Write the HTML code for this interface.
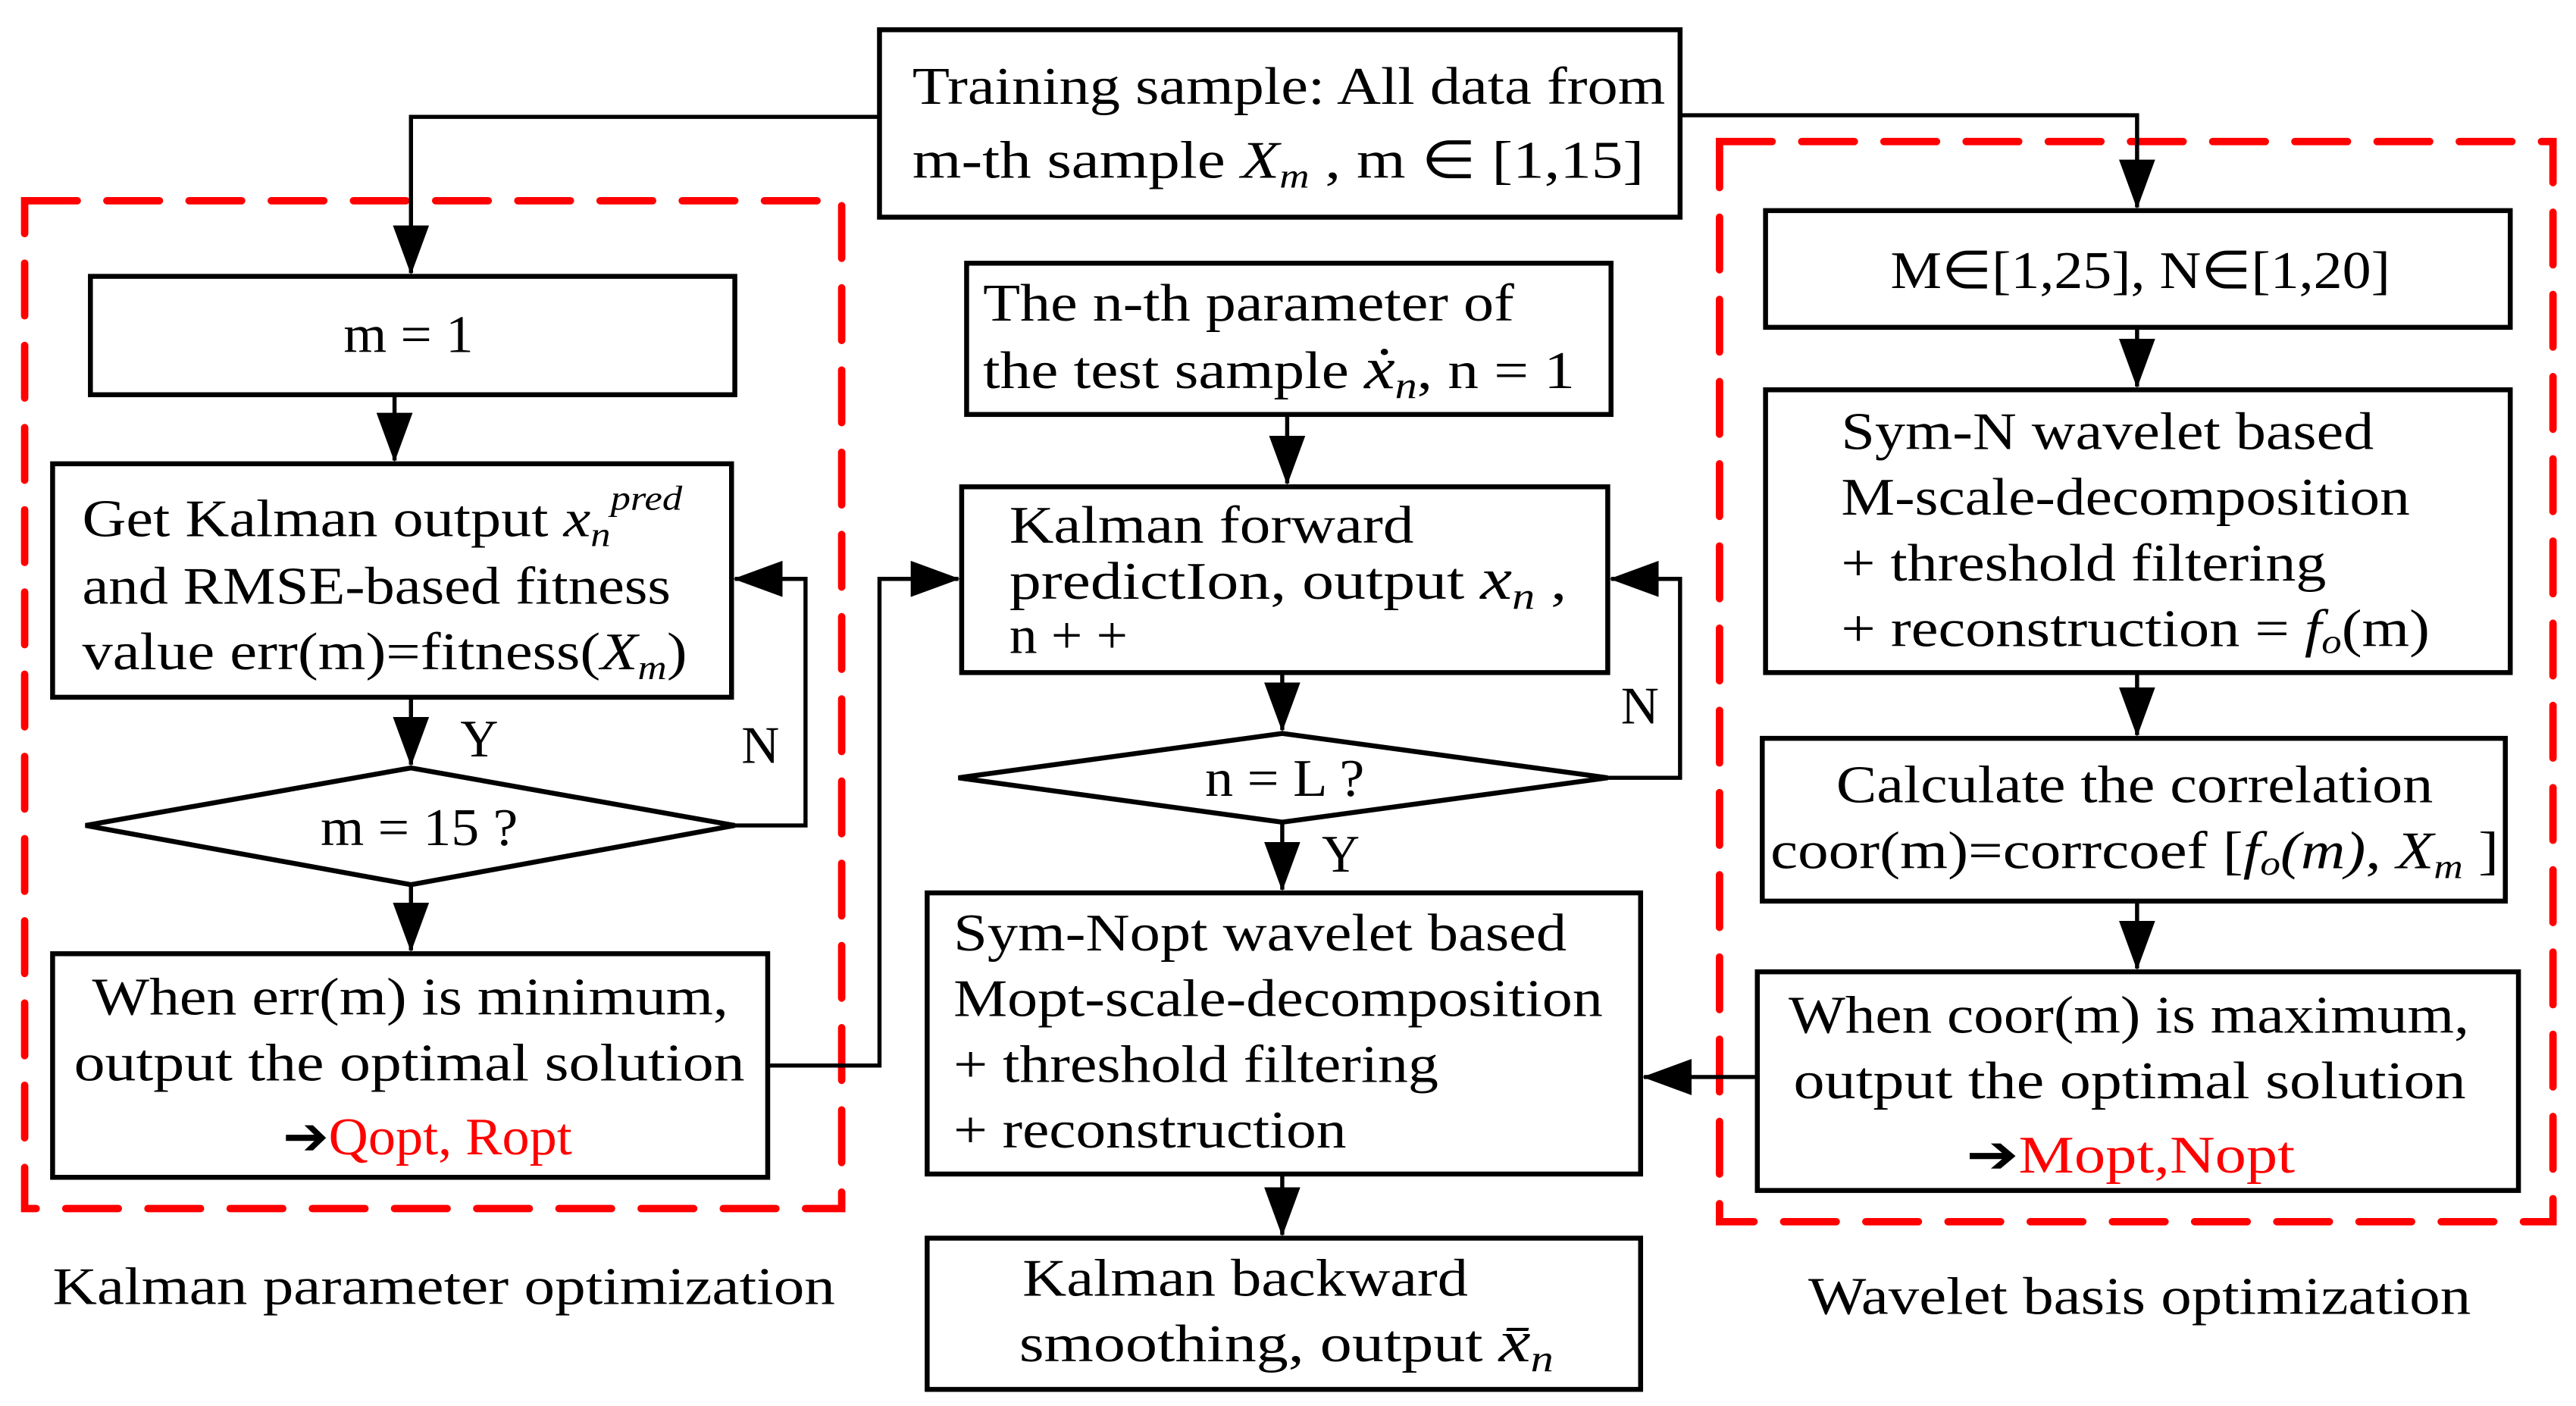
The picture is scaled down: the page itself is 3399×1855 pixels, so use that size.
<!DOCTYPE html>
<html><head><meta charset="utf-8"><style>
html,body{margin:0;padding:0;background:#fff;}
svg{display:block;}
text{font-family:"Liberation Serif",serif;font-size:32px;fill:#000;}
.i{font-style:italic;}
.r{fill:#f00;}
</style></head><body>
<svg width="3399" height="1855" viewBox="0 0 1567 855" xmlns="http://www.w3.org/2000/svg">
<defs>
<marker id="a" markerWidth="30" markerHeight="22" refX="29" refY="11" orient="auto" markerUnits="userSpaceOnUse" viewBox="0 0 30 22">
<path d="M0,0 L30,11 L0,22 Z" fill="#000"/></marker>
</defs>
<g fill="none" stroke="#f00" stroke-width="4.5" stroke-dasharray="32,18" stroke-linecap="round">
<rect x="15" y="122" width="497" height="613"/>
<rect x="1046" y="86" width="507" height="657"/>
</g>
<g fill="#fff" stroke="#000" stroke-width="3">
<rect x="535" y="18" width="487" height="114"/>
<rect x="55" y="168" width="392" height="72"/>
<rect x="32" y="282" width="413" height="142"/>
<polygon points="52,502 250,467 447,502 250,538"/>
<rect x="32" y="580" width="435" height="136"/>
<rect x="588" y="160" width="392" height="92"/>
<rect x="585" y="296" width="393" height="113"/>
<polygon points="583,473 780,446 978,473 780,500"/>
<rect x="564" y="543" width="434" height="171"/>
<rect x="564" y="753" width="434" height="92"/>
<rect x="1074" y="128" width="453" height="71"/>
<rect x="1074" y="237" width="453" height="172"/>
<rect x="1072" y="449" width="452" height="99"/>
<rect x="1069" y="591" width="463" height="133"/>
</g>
<g fill="none" stroke="#000" stroke-width="2.5">
<polyline points="535,71 250,71 250,166" marker-end="url(#a)"/>
<polyline points="1022,70 1300,70 1300,126" marker-end="url(#a)"/>
<line x1="240" y1="240" x2="240" y2="280" marker-end="url(#a)"/>
<line x1="250" y1="424" x2="250" y2="465" marker-end="url(#a)"/>
<polyline points="447,502 490,502 490,352 447,352" marker-end="url(#a)"/>
<line x1="250" y1="538" x2="250" y2="578" marker-end="url(#a)"/>
<polyline points="467,648 535,648 535,352 583,352" marker-end="url(#a)"/>
<line x1="783" y1="252" x2="783" y2="294" marker-end="url(#a)"/>
<line x1="780" y1="409" x2="780" y2="444" marker-end="url(#a)"/>
<polyline points="978,473 1022,473 1022,352 980,352" marker-end="url(#a)"/>
<line x1="780" y1="500" x2="780" y2="541" marker-end="url(#a)"/>
<line x1="780" y1="714" x2="780" y2="751" marker-end="url(#a)"/>
<line x1="1300" y1="199" x2="1300" y2="235" marker-end="url(#a)"/>
<line x1="1300" y1="409" x2="1300" y2="447" marker-end="url(#a)"/>
<line x1="1300" y1="548" x2="1300" y2="589" marker-end="url(#a)"/>
<line x1="1069" y1="655" x2="1000" y2="655" marker-end="url(#a)"/>
</g>
<g>
<text x="555" y="63" textLength="458" lengthAdjust="spacingAndGlyphs">Training sample: All data from</text>
<text x="555" y="108" textLength="445" lengthAdjust="spacingAndGlyphs">m-th sample <tspan class="i">X<tspan font-size="21" dy="6">m</tspan></tspan><tspan dy="-6"> , m ∈ [1,15]</tspan></text>
<text x="209" y="214" textLength="79" lengthAdjust="spacingAndGlyphs">m = 1</text>
<text x="50" y="326" textLength="365" lengthAdjust="spacingAndGlyphs">Get Kalman output <tspan class="i">x<tspan font-size="21" dy="6">n</tspan><tspan font-size="21" dy="-22">pred</tspan></tspan></text>
<text x="50" y="367" textLength="358" lengthAdjust="spacingAndGlyphs">and RMSE-based fitness</text>
<text x="50" y="407" textLength="368" lengthAdjust="spacingAndGlyphs">value err(m)=fitness(<tspan class="i">X<tspan font-size="21" dy="6">m</tspan></tspan><tspan dy="-6">)</tspan></text>
<text x="280" y="460">Y</text>
<text x="451" y="464">N</text>
<text x="195" y="514" textLength="120" lengthAdjust="spacingAndGlyphs">m = 15 ?</text>
<text x="56" y="617" textLength="387" lengthAdjust="spacingAndGlyphs">When err(m) is minimum,</text>
<text x="45" y="657" textLength="408" lengthAdjust="spacingAndGlyphs">output the optimal solution</text>
<text x="172" y="702" textLength="176" lengthAdjust="spacingAndGlyphs">➔<tspan class="r">Qopt, Ropt</tspan></text>
<text x="32" y="793" textLength="476" lengthAdjust="spacingAndGlyphs">Kalman parameter optimization</text>
<text x="598" y="195" textLength="323" lengthAdjust="spacingAndGlyphs">The n-th parameter of</text>
<text x="598" y="236" textLength="360" lengthAdjust="spacingAndGlyphs">the test sample <tspan class="i" font-size="36">ẋ<tspan font-size="23" dy="6">n</tspan></tspan><tspan dy="-6">, n = 1</tspan></text>
<text x="614" y="330" textLength="246" lengthAdjust="spacingAndGlyphs">Kalman forward</text>
<text x="614" y="364" textLength="339" lengthAdjust="spacingAndGlyphs">predictIon, output <tspan class="i" font-size="36">x<tspan font-size="23" dy="6">n</tspan></tspan><tspan dy="-6"> ,</tspan></text>
<text x="614" y="397" textLength="72" lengthAdjust="spacingAndGlyphs">n + +</text>
<text x="986" y="440">N</text>
<text x="733" y="484" textLength="97" lengthAdjust="spacingAndGlyphs">n = L ?</text>
<text x="804" y="530">Y</text>
<text x="580" y="578" textLength="373" lengthAdjust="spacingAndGlyphs">Sym-Nopt wavelet based</text>
<text x="580" y="618" textLength="395" lengthAdjust="spacingAndGlyphs">Mopt-scale-decomposition</text>
<text x="580" y="658" textLength="295" lengthAdjust="spacingAndGlyphs">+ threshold filtering</text>
<text x="580" y="698" textLength="239" lengthAdjust="spacingAndGlyphs">+ reconstruction</text>
<text x="622" y="788" textLength="271" lengthAdjust="spacingAndGlyphs">Kalman backward</text>
<text x="620" y="828" textLength="325" lengthAdjust="spacingAndGlyphs">smoothing, output <tspan class="i" font-size="36">x̄<tspan font-size="23" dy="6">n</tspan></tspan></text>
<text x="1150" y="175" textLength="304" lengthAdjust="spacingAndGlyphs">M∈[1,25], N∈[1,20]</text>
<text x="1120" y="273" textLength="324" lengthAdjust="spacingAndGlyphs">Sym-N wavelet based</text>
<text x="1120" y="313" textLength="346" lengthAdjust="spacingAndGlyphs">M-scale-decomposition</text>
<text x="1120" y="353" textLength="295" lengthAdjust="spacingAndGlyphs">+ threshold filtering</text>
<text x="1120" y="393" textLength="358" lengthAdjust="spacingAndGlyphs">+ reconstruction = <tspan class="i">f<tspan font-size="21" dy="4">o</tspan></tspan><tspan dy="-4">(m)</tspan></text>
<text x="1117" y="488" textLength="363" lengthAdjust="spacingAndGlyphs">Calculate the correlation</text>
<text x="1077" y="528" textLength="443" lengthAdjust="spacingAndGlyphs">coor(m)=corrcoef [<tspan class="i">f<tspan font-size="21" dy="4">o</tspan></tspan><tspan dy="-4" class="i">(m)</tspan>, <tspan class="i">X<tspan font-size="21" dy="6">m</tspan></tspan><tspan dy="-6"> ]</tspan></text>
<text x="1088" y="628" textLength="414" lengthAdjust="spacingAndGlyphs">When coor(m) is maximum,</text>
<text x="1091" y="668" textLength="409" lengthAdjust="spacingAndGlyphs">output the optimal solution</text>
<text x="1196" y="713" textLength="200" lengthAdjust="spacingAndGlyphs">➔<tspan class="r">Mopt,Nopt</tspan></text>
<text x="1100" y="799" textLength="403" lengthAdjust="spacingAndGlyphs">Wavelet basis optimization</text>
</g>
</svg>
</body></html>
